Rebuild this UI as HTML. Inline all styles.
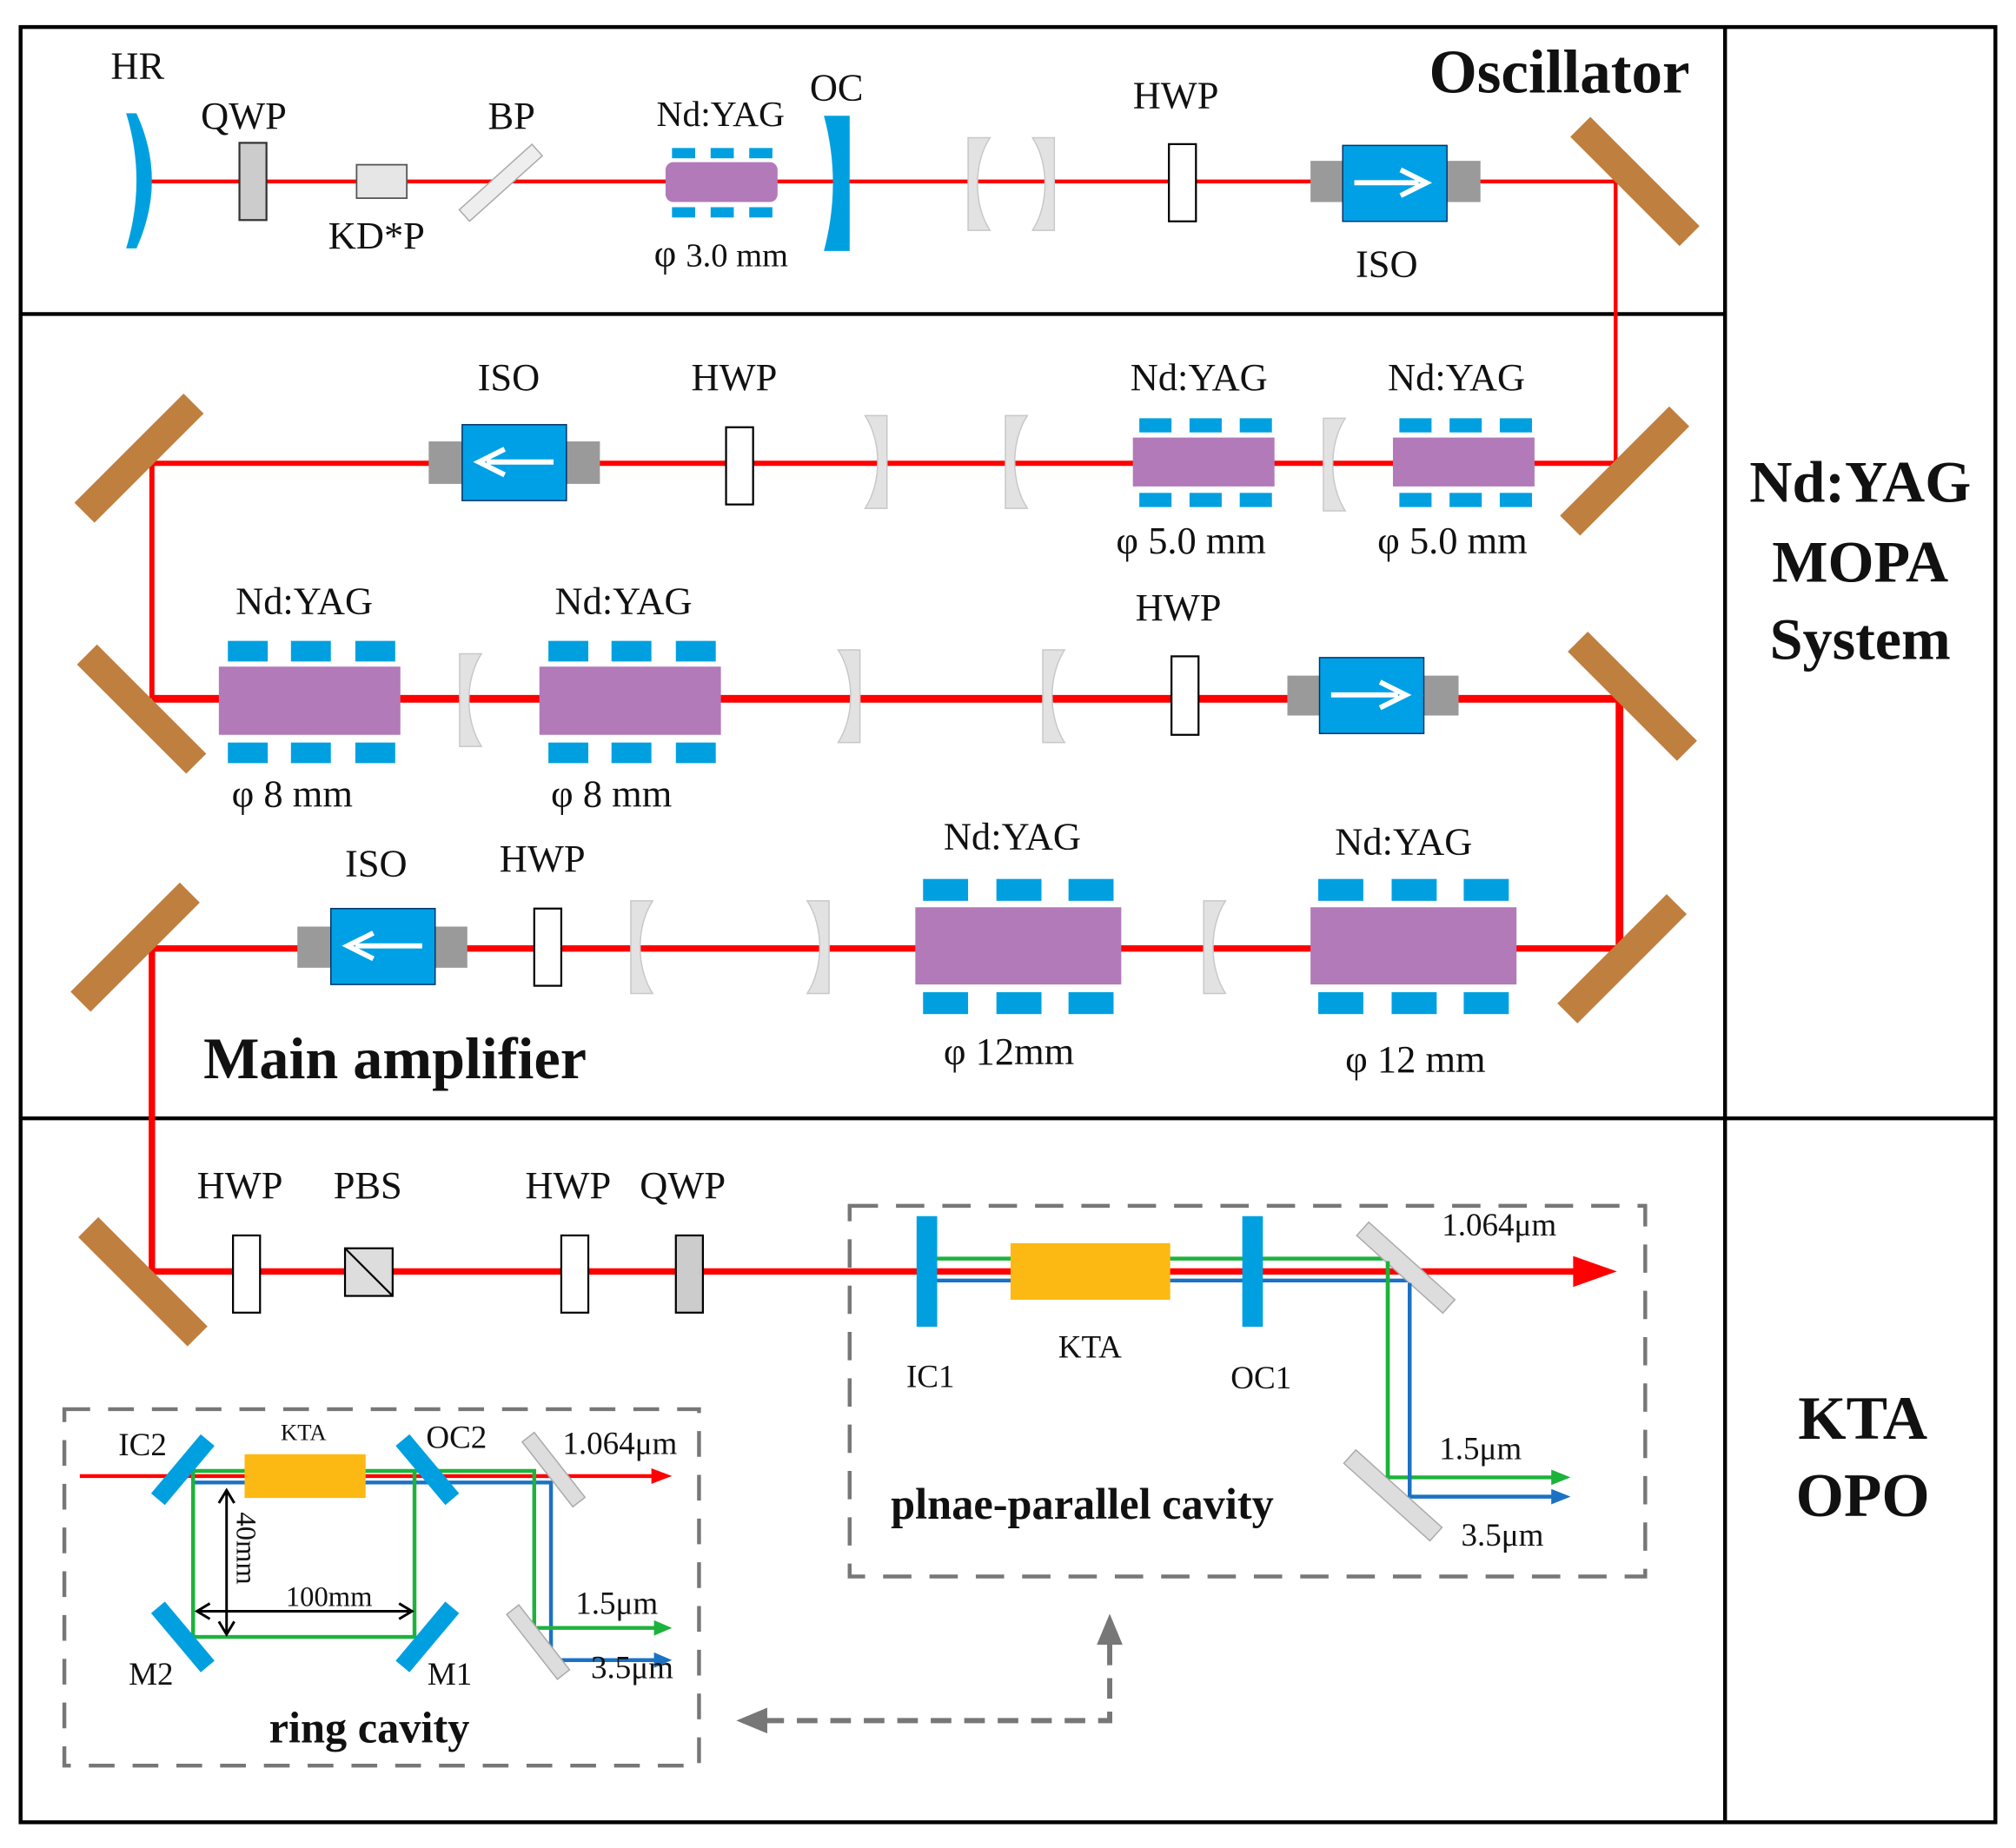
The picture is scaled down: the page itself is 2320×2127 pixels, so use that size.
<!DOCTYPE html>
<html><head><meta charset="utf-8"><style>html,body{margin:0;padding:0;background:#fff}svg{display:block}text{font-family:"Liberation Serif","DejaVu Serif",serif;fill:#111}</style></head>
<body>
<svg width="2320" height="2127" viewBox="0 0 1566 1436" preserveAspectRatio="none" xmlns="http://www.w3.org/2000/svg" font-family="Liberation Serif, serif">
<defs>
<g id="mir"><rect x="-60" y="-11" width="120" height="22" fill="#bf7f3f"/></g>
<g id="lens"><path d="M0,0 C13,20 13,52 0,72 L17,72 L17,0 Z" fill="#e2e2e2" stroke="#c8c8c8" stroke-width="1"/></g>
<g id="lensr"><path d="M17,0 C4,20 4,52 17,72 L0,72 L0,0 Z" fill="#e2e2e2" stroke="#c8c8c8" stroke-width="1"/></g>
</defs>
<rect x="16" y="21" width="1534" height="1395" fill="none" stroke="#000" stroke-width="3"/>
<line x1="1340" y1="21" x2="1340" y2="1416" stroke="#000" stroke-width="3"/>
<line x1="16" y1="244" x2="1340" y2="244" stroke="#000" stroke-width="3"/>
<line x1="16" y1="869" x2="1550" y2="869" stroke="#000" stroke-width="3"/>

<g stroke="#f00" fill="none">
<polyline points="110,141 1255,141 1255,360" stroke-width="3"/>
<polyline points="1255,360 118,360 118,543" stroke-width="4"/>
<polyline points="118,543 1258,543 1258,737" stroke-width="6"/>
<polyline points="1258,737 118,737 118,988 1225,988" stroke-width="5"/>
</g>
<path d="M1222,976 L1256,988 L1222,1000 Z" fill="#f00"/>

<use href="#mir" transform="translate(1270,141) rotate(45)"/>
<use href="#mir" transform="translate(1262,366) rotate(-45)"/>
<use href="#mir" transform="translate(108,356) rotate(-45)"/>
<use href="#mir" transform="translate(110,551) rotate(45)"/>
<use href="#mir" transform="translate(1268,541) rotate(45)"/>
<use href="#mir" transform="translate(1260,745) rotate(-45)"/>
<use href="#mir" transform="translate(105,736) rotate(-45)"/>
<use href="#mir" transform="translate(111,996) rotate(45)"/>

<path d="M98,88 L106,88 Q130,140 106,193 L98,193 Q114,140 98,88 Z" fill="#00a0e0"/>
<rect x="186" y="111" width="21" height="60" fill="#ccc" stroke="#333" stroke-width="1.5"/>
<rect x="277" y="128" width="39" height="26" fill="#e6e6e6" stroke="#555" stroke-width="1.2"/>
<rect x="-6" y="-38" width="12" height="76" fill="#eee" stroke="#aaa" transform="translate(389,142) rotate(48)"/>
<g fill="#00a0e0">
<rect x="522" y="115" width="18" height="8"/><rect x="552" y="115" width="18" height="8"/><rect x="582" y="115" width="18" height="8"/>
<rect x="522" y="161" width="18" height="8"/><rect x="552" y="161" width="18" height="8"/><rect x="582" y="161" width="18" height="8"/>
</g>
<rect x="517" y="126" width="87" height="31" rx="6" fill="#b27ab8"/>
<path d="M640,90 L660,90 L660,195 L640,195 Q654,142 640,90 Z" fill="#00a0e0"/>
<use href="#lensr" transform="translate(752,107)"/>
<use href="#lens" transform="translate(802,107)"/>
<rect x="908" y="112" width="21" height="60" fill="#fff" stroke="#000" stroke-width="1.5"/>
<rect x="1018" y="125" width="132" height="32" fill="#9a9a9a"/>
<rect x="1043" y="113" width="81" height="59" fill="#00a0e6" stroke="#036" stroke-width="1"/>
<path d="M1052,142 L1102,142 M1088,132 L1108,142 L1088,152" stroke="#fff" stroke-width="4" fill="none"/>

<rect x="333" y="343" width="133" height="33" fill="#9a9a9a"/>
<rect x="359" y="330" width="81" height="59" fill="#00a0e6" stroke="#036"/>
<path d="M430,359 L378,359 M392,349 L372,359 L392,369" stroke="#fff" stroke-width="4" fill="none"/>
<rect x="564" y="332" width="21" height="60" fill="#fff" stroke="#000" stroke-width="1.5"/>
<use href="#lens" transform="translate(672,323)"/>
<use href="#lensr" transform="translate(781,323)"/>
<use href="#lensr" transform="translate(1028,325)"/>
<g fill="#00a0e0">
<rect x="885" y="325" width="25" height="11"/><rect x="924" y="325" width="25" height="11"/><rect x="963" y="325" width="25" height="11"/>
<rect x="885" y="383" width="25" height="11"/><rect x="924" y="383" width="25" height="11"/><rect x="963" y="383" width="25" height="11"/>
<rect x="1087" y="325" width="25" height="11"/><rect x="1126" y="325" width="25" height="11"/><rect x="1165" y="325" width="25" height="11"/>
<rect x="1087" y="383" width="25" height="11"/><rect x="1126" y="383" width="25" height="11"/><rect x="1165" y="383" width="25" height="11"/>
</g>
<rect x="880" y="340" width="110" height="38" fill="#b27ab8"/>
<rect x="1082" y="340" width="110" height="38" fill="#b27ab8"/>

<g fill="#00a0e0">
<rect x="177" y="498" width="31" height="16"/><rect x="226" y="498" width="31" height="16"/><rect x="276" y="498" width="31" height="16"/>
<rect x="177" y="577" width="31" height="16"/><rect x="226" y="577" width="31" height="16"/><rect x="276" y="577" width="31" height="16"/>
<rect x="426" y="498" width="31" height="16"/><rect x="475" y="498" width="31" height="16"/><rect x="525" y="498" width="31" height="16"/>
<rect x="426" y="577" width="31" height="16"/><rect x="475" y="577" width="31" height="16"/><rect x="525" y="577" width="31" height="16"/>
</g>
<rect x="170" y="518" width="141" height="53" fill="#b27ab8"/>
<rect x="419" y="518" width="141" height="53" fill="#b27ab8"/>
<use href="#lensr" transform="translate(357,508)"/>
<use href="#lens" transform="translate(651,505)"/>
<use href="#lensr" transform="translate(810,505)"/>
<rect x="910" y="510" width="21" height="61" fill="#fff" stroke="#000" stroke-width="1.5"/>
<rect x="1000" y="525" width="133" height="31" fill="#9a9a9a"/>
<rect x="1025" y="511" width="81" height="59" fill="#00a0e6" stroke="#036"/>
<path d="M1034,540 L1086,540 M1072,530 L1092,540 L1072,550" stroke="#fff" stroke-width="4" fill="none"/>

<rect x="231" y="720" width="132" height="32" fill="#9a9a9a"/>
<rect x="257" y="706" width="81" height="59" fill="#00a0e6" stroke="#036"/>
<path d="M328,735 L276,735 M290,725 L270,735 L290,745" stroke="#fff" stroke-width="4" fill="none"/>
<rect x="415" y="706" width="21" height="60" fill="#fff" stroke="#000" stroke-width="1.5"/>
<use href="#lensr" transform="translate(490,700)"/>
<use href="#lens" transform="translate(627,700)"/>
<use href="#lensr" transform="translate(935,700)"/>
<g fill="#00a0e0">
<rect x="717" y="683" width="35" height="17"/><rect x="774" y="683" width="35" height="17"/><rect x="830" y="683" width="35" height="17"/>
<rect x="717" y="771" width="35" height="17"/><rect x="774" y="771" width="35" height="17"/><rect x="830" y="771" width="35" height="17"/>
<rect x="1024" y="683" width="35" height="17"/><rect x="1081" y="683" width="35" height="17"/><rect x="1137" y="683" width="35" height="17"/>
<rect x="1024" y="771" width="35" height="17"/><rect x="1081" y="771" width="35" height="17"/><rect x="1137" y="771" width="35" height="17"/>
</g>
<rect x="711" y="705" width="160" height="60" fill="#b27ab8"/>
<rect x="1018" y="705" width="160" height="60" fill="#b27ab8"/>

<rect x="181" y="960" width="21" height="60" fill="#fff" stroke="#000" stroke-width="1.5"/>
<rect x="268" y="970" width="37" height="37" fill="#ddd" stroke="#000" stroke-width="1.5"/>
<line x1="268" y1="970" x2="305" y2="1007" stroke="#000" stroke-width="1.5"/>
<rect x="436" y="960" width="21" height="60" fill="#fff" stroke="#000" stroke-width="1.5"/>
<rect x="525" y="960" width="21" height="60" fill="#ccc" stroke="#000" stroke-width="1.5"/>

<rect x="660" y="937" width="618" height="288" fill="none" stroke="#777" stroke-width="3" stroke-dasharray="22,14"/>
<g fill="none" stroke-width="3">
<polyline points="728,978 1078,978 1078,1148 1215,1148" stroke="#1db33b"/>
<polyline points="728,995 1095,995 1095,1163 1215,1163" stroke="#1b72c4"/>
</g>
<path d="M1205,1142 L1220,1148 L1205,1154 Z" fill="#1db33b"/>
<path d="M1205,1157 L1220,1163 L1205,1169 Z" fill="#1b72c4"/>
<rect x="712" y="945" width="16" height="86" fill="#00a0e0"/>
<rect x="785" y="966" width="124" height="44" fill="#fdb913"/>
<rect x="965" y="945" width="16" height="86" fill="#00a0e0"/>
<rect x="-7" y="-45" width="14" height="90" fill="#ddd" stroke="#aaa" transform="translate(1092,985) rotate(-48)"/>
<rect x="-7" y="-45" width="14" height="90" fill="#ddd" stroke="#aaa" transform="translate(1082,1162) rotate(-48)"/>
<line x1="1078" y1="980" x2="1078" y2="1148" stroke="#1db33b" stroke-width="3"/>
<line x1="1095" y1="997" x2="1095" y2="1163" stroke="#1b72c4" stroke-width="3"/>

<rect x="50" y="1095" width="493" height="277" fill="none" stroke="#777" stroke-width="3" stroke-dasharray="20,14"/>
<line x1="62" y1="1147" x2="510" y2="1147" stroke="#f00" stroke-width="3"/>
<path d="M506,1141 L522,1147 L506,1153 Z" fill="#f00"/>
<polyline points="150,1152 428,1152 428,1290 510,1290" fill="none" stroke="#1b72c4" stroke-width="3"/>
<polyline points="150,1143 322,1143 322,1272 150,1272 150,1143" fill="none" stroke="#1db33b" stroke-width="3"/>
<polyline points="322,1143 415,1143 415,1265 510,1265" fill="none" stroke="#1db33b" stroke-width="3"/>
<path d="M508,1259 L522,1265 L508,1271 Z" fill="#1db33b"/>
<path d="M508,1284 L522,1290 L508,1296 Z" fill="#1b72c4"/>
<g fill="#00a0e0">
<rect x="-7" y="-30" width="14" height="60" transform="translate(142,1142) rotate(40)"/>
<rect x="-7" y="-30" width="14" height="60" transform="translate(332,1142) rotate(-40)"/>
<rect x="-7" y="-30" width="14" height="60" transform="translate(142,1272) rotate(-40)"/>
<rect x="-7" y="-30" width="14" height="60" transform="translate(332,1272) rotate(40)"/>
</g>
<rect x="190" y="1130" width="94" height="34" fill="#fdb913"/>
<rect x="-6" y="-32" width="12" height="64" fill="#ddd" stroke="#aaa" transform="translate(430,1142) rotate(-38)"/>
<rect x="-6" y="-32" width="12" height="64" fill="#ddd" stroke="#aaa" transform="translate(418,1276) rotate(-38)"/>
<g stroke="#000" stroke-width="2" fill="none">
<line x1="176" y1="1160" x2="176" y2="1268"/>
<path d="M170,1168 L176,1158 L182,1168 M170,1260 L176,1270 L182,1260"/>
<line x1="155" y1="1252" x2="318" y2="1252"/>
<path d="M163,1246 L153,1252 L163,1258 M310,1246 L320,1252 L310,1258"/>
</g>
<text transform="translate(184,1175) rotate(90)" font-size="22">40mm</text>

<polyline points="862,1278 862,1337 590,1337" fill="none" stroke="#777" stroke-width="4" stroke-dasharray="16,10"/>
<path d="M852,1278 L862,1254 L872,1278 Z" fill="#777"/>
<path d="M596,1327 L572,1337 L596,1347 Z" fill="#777"/>

<g font-size="30">
<text x="86" y="61">HR</text>
<text x="156" y="100">QWP</text>
<text x="379" y="100">BP</text>
<text x="510" y="98" font-size="28">Nd:YAG</text>
<text x="629" y="78">OC</text>
<text x="255" y="193">KD*P</text>
<text x="508" y="207">φ <tspan font-size="26">3.0 mm</tspan></text>
<text x="880" y="84">HWP</text>
<text x="1053" y="215">ISO</text>
<text x="371" y="303">ISO</text>
<text x="537" y="303">HWP</text>
<text x="878" y="303">Nd:YAG</text>
<text x="1078" y="303">Nd:YAG</text>
<text x="867" y="430">φ 5.0 mm</text>
<text x="1070" y="430">φ 5.0 mm</text>
<text x="183" y="477">Nd:YAG</text>
<text x="431" y="477">Nd:YAG</text>
<text x="882" y="482">HWP</text>
<text x="180" y="627">φ 8 mm</text>
<text x="428" y="627">φ 8 mm</text>
<text x="268" y="681">ISO</text>
<text x="388" y="677">HWP</text>
<text x="733" y="660">Nd:YAG</text>
<text x="1037" y="664">Nd:YAG</text>
<text x="733" y="827">φ 12mm</text>
<text x="1045" y="833">φ 12 mm</text>
<text x="153" y="931">HWP</text>
<text x="259" y="931">PBS</text>
<text x="408" y="931">HWP</text>
<text x="497" y="931">QWP</text>
</g>
<g font-size="25">
<text x="1120" y="960">1.064μm</text>
<text x="822" y="1055">KTA</text>
<text x="704" y="1078">IC1</text>
<text x="956" y="1079">OC1</text>
<text x="1118" y="1134">1.5μm</text>
<text x="1135" y="1201">3.5μm</text>
<text x="92" y="1131">IC2</text>
<text x="331" y="1125">OC2</text>
<text x="437" y="1130">1.064μm</text>
<text x="100" y="1309">M2</text>
<text x="332" y="1309">M1</text>
<text x="447" y="1254">1.5μm</text>
<text x="459" y="1304">3.5μm</text>
<text x="222" y="1248" font-size="22">100mm</text>
<text x="218" y="1119" font-size="18">KTA</text>
</g>
<g font-weight="bold">
<text x="1110" y="72" font-size="48">Oscillator</text>
<text x="1445" y="390" font-size="46" text-anchor="middle">Nd:YAG</text>
<text x="1445" y="452" font-size="46" text-anchor="middle">MOPA</text>
<text x="1445" y="512" font-size="46" text-anchor="middle">System</text>
<text x="1447" y="1118" font-size="48" text-anchor="middle">KTA</text>
<text x="1447" y="1178" font-size="48" text-anchor="middle">OPO</text>
<text x="158" y="838" font-size="46">Main amplifier</text>
<text x="692" y="1180" font-size="34">plnae-parallel cavity</text>
<text x="209" y="1354" font-size="34">ring cavity</text>
</g>
</svg>
</body></html>
